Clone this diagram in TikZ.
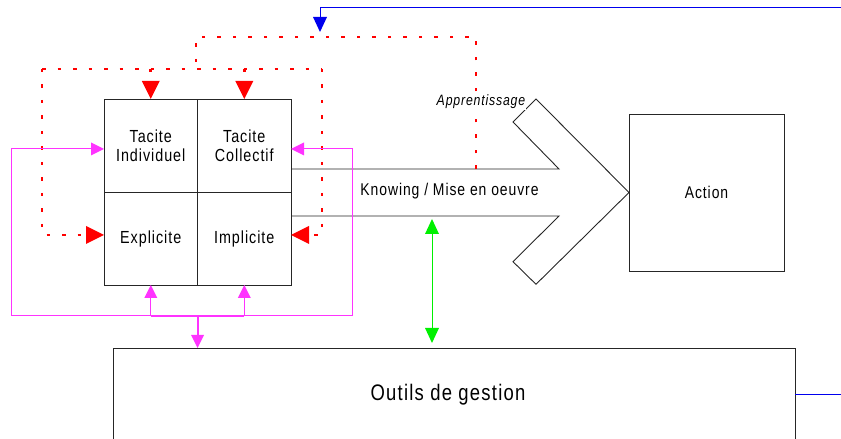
\documentclass[tikz,border=0pt]{standalone}
\usepackage{fontspec}
\setmainfont{Liberation Sans}[FakeStretch=0.82,LetterSpace=5.5]
\usetikzlibrary{arrows.meta,positioning}
\definecolor{kmred}{HTML}{FF0000}
\definecolor{kmmag}{HTML}{FF33FF}
\definecolor{kmgreen}{HTML}{00F000}
\definecolor{kmblue}{HTML}{0000EE}
\tikzset{
    km cell/.style={
        draw=black!85,
        line width=0.9pt,
        minimum width=93.5pt,
        minimum height=93pt,
        inner sep=0pt,
        outer sep=0pt,
        align=center,
        font=\fontsize{17.5}{19.5}\selectfont
    },
    km box/.style={draw=black!85, line width=0.9pt, inner sep=0pt, outer sep=0pt, align=center},
    km outline/.style={draw=black!85, line width=0.9pt},
    km label/.style={font=\fontsize{17}{19}\selectfont},
    km note/.style={font=\fontsize{15}{17}\selectfont\itshape, fill=white, inner sep=1pt},
    km learn/.style={draw=kmred, line width=2.8pt, dash pattern=on 3.5pt off 12pt},
    km learn tip/.style={-{Triangle[length=18pt,width=18pt,line width=0pt]}},
    km mag/.style={draw=kmmag, line width=1pt},
    km mag tip/.style={-{Triangle[length=13pt,width=13pt,line width=0pt]}},
    km link/.style={{Triangle[length=15pt,width=14pt,line width=0pt]}-{Triangle[length=15pt,width=14pt,line width=0pt]}, draw=kmgreen, line width=0.8pt, shorten <=5pt, shorten >=3pt},
    km feedback/.style={-{Triangle[length=15pt,width=14pt,line width=0pt]}, draw=kmblue, line width=1pt}
}
\begin{document}
\begin{tikzpicture}[x=1pt,y=1pt]
\useasboundingbox (0,0) rectangle (841,439);
\clip (0,0) rectangle (841,439);

% knowledge grid
\node[km cell] (ti) at (150.75,293.5) {Tacite\\Individuel};
\node[km cell, right=0pt of ti] (tc) {Tacite\\Collectif};
\node[km cell, below=0pt of ti] (ex) {Explicite};
\node[km cell, right=0pt of ex] (im) {Implicite};

% action and knowing arrow
\node[km box, minimum width=155pt, minimum height=157pt, km label] (act) at (706.5,246.5) {Action};
\draw[km outline] (tc.east |- 0,270) -- (559,270) -- (513,317) -- (536,340) -- (act.west)
    -- (536,154.7) -- (513,177.3) -- (559,223) -- (im.east |- 0,223);
\node[km label] (kn) at (449.5,248) {Knowing / Mise en oeuvre};

% outils
\node[km box, minimum width=682pt, minimum height=94pt] (og) at (454,44) {};
\node[font=\fontsize{22.5}{24}\selectfont] (ogt) at (448,44) {Outils de gestion};

% learning loops
\coordinate (lf) at (476,270);
\coordinate (lt) at (196,402);
\coordinate (ll) at (42,370);
\coordinate (lr) at (322,370);
\draw[km learn] (lf) |- (lt) -- (lt |- ll);
\draw[km learn] (ll) -- (lr);
\draw[km learn, km learn tip] (ll) |- ([yshift=3.5pt]ex.west);
\draw[km learn, km learn tip] (lr) |- ([yshift=3.5pt]im.east);
\draw[km learn, km learn tip] (ti.north |- ll) -- (ti.north);
\draw[km learn, km learn tip] (tc.north |- ll) -- (tc.north);
\node[km note] (app) at (481,337) {Apprentissage};

% tools loop
\coordinate (ml) at (11,123);
\coordinate (mr) at (352,123);
\draw[km mag] (ml) -- (mr);
\draw[km mag, km mag tip] (ml) |- ([yshift=-3.5pt]ti.west);
\draw[km mag, km mag tip] (mr) |- ([yshift=-3.5pt]tc.east);
\draw[km mag, line width=2pt] (ex.south |- ml) -- (im.south |- ml);
\draw[km mag, km mag tip] (ex.south |- ml) -- (ex.south);
\draw[km mag, km mag tip] (im.south |- ml) -- (im.south);
\draw[km mag, km mag tip, line width=2pt] (ex.south east |- ml) -- (og.north -| ex.south east);

% tools to knowing
\coordinate (kb) at (432,223);
\draw[km link] (og.north -| kb) -- (kb);

% feedback
\coordinate (fb) at (320,407);
\draw[km feedback] (og.east) -- (860,44) -- (860,431.5) -| (fb);
\end{tikzpicture}
\end{document}
